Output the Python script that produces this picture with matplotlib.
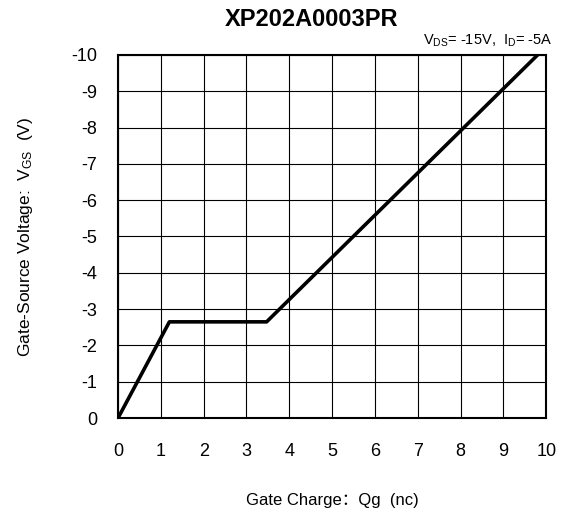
import matplotlib
matplotlib.use("Agg")
import matplotlib.pyplot as plt

plt.rcParams['font.family'] = ['Liberation Sans', 'Noto Sans CJK SC', 'DejaVu Sans']
plt.rcParams['mathtext.fontset'] = 'custom'
plt.rcParams['mathtext.rm'] = 'Liberation Sans'
plt.rcParams['mathtext.it'] = 'Liberation Sans'

# curva de carga de gate
qg = [0, 1.2, 3.47, 9.8]
vgs = [0, -2.65, -2.65, -10]

xticks = list(range(0, 11))
yticks = list(range(0, -11, -1))

fig = plt.figure(figsize=(5.63, 5.13), dpi=100)
ax = fig.add_axes([0.2096, 0.185, 0.7606, 0.708])

ax.plot(qg, vgs, color='black', linewidth=2.6, solid_capstyle='butt', zorder=3)

ax.set_xlim(0, 10)
ax.set_ylim(0, -10)
ax.set_xticks(xticks)
ax.set_yticks(yticks)
ax.set_xticklabels([str(t) for t in xticks])
ax.set_yticklabels([str(t) for t in yticks])
ax.tick_params(length=0, labelsize=13)
ax.tick_params(axis='x', pad=18)
ax.tick_params(axis='y', pad=15)
ax.grid(True, color='black', linewidth=0.8)
for s in ax.spines.values():
    s.set_linewidth(1.5)

fig.text(312 / 563, 1 - 19.5 / 513, "XP202A0003PR", fontsize=17, fontweight='bold',
         ha='center', va='center')
ax.text(1.015, 1.015, r"V$_{\mathregular{DS}}$= -15V,  I$_{\mathregular{D}}$= -5A",
        transform=ax.transAxes, ha='right', va='bottom', fontsize=10.5)
ax.set_xlabel("Gate Charge：Qg  (nc)", fontsize=12, labelpad=24)
ax.set_ylabel(r"Gate-Source Voltage:  V$_{\mathregular{GS}}$  (V)", fontsize=12.5, labelpad=26)

fig.savefig("out.png", dpi=100)
